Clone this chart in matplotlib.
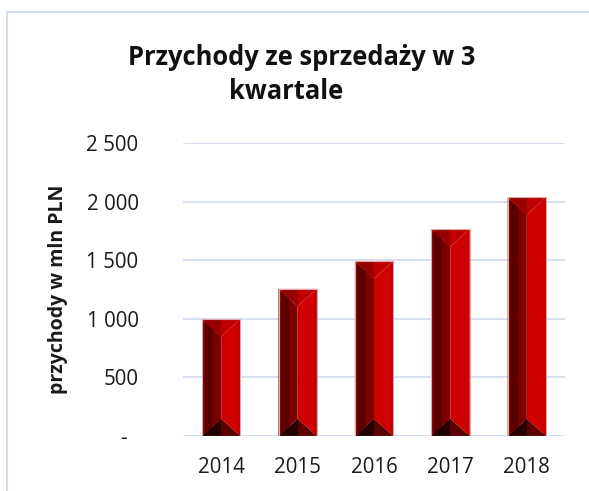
import numpy as np
import matplotlib.pyplot as plt
from matplotlib.patches import Polygon, Rectangle
from matplotlib.lines import Line2D

plt.rcParams['font.family'] = ['Open Sans', 'DejaVu Sans']

YEARS = ["2014", "2015", "2016", "2017", "2018"]
REVENUE = [995, 1255, 1490, 1765, 2035]
YTICKS = [0, 500, 1000, 1500, 2000, 2500]
YTICK_LABELS = ["-  ", "500", "1 000", "1 500", "2 000", "2 500"]

W, H = 589, 491
fig = plt.figure(figsize=(W / 100, H / 100), dpi=100)
ax = fig.add_axes([183 / W, 1 - 436 / H, 382 / W, 293 / H])
ax.set_xlim(-0.5, len(YEARS) - 0.5)
ax.set_ylim(0, 2500)
for s in ax.spines.values():
    s.set_visible(False)

for t in YTICKS:
    ax.axhline(t, color="#d5e0f0", lw=1.4, zorder=0)

# bevel depth in data units (a bit less than half the bar width in pixels)
bw = 0.5
px_x = 382 / len(YEARS)
px_y = 293 / 2500
d = (bw / 2) * px_x / px_y * 0.9

for i, v in enumerate(REVENUE):
    x0, x1, xc = i - bw / 2, i + bw / 2, i
    dd = min(d, v / 2)
    # left half (dark, with a darker strip) and right half (bright)
    ax.add_patch(Polygon([(x0, 0), (xc, dd), (xc, v - dd), (x0, v)],
                         closed=True, fc="#7c0000", ec="none", zorder=2))
    ax.add_patch(Polygon([(x0 + bw * 0.07, dd * 0.14), (x0 + bw * 0.28, dd * 0.56),
                          (x0 + bw * 0.28, v - dd * 0.56), (x0 + bw * 0.07, v - dd * 0.14)],
                         closed=True, fc="#5a0000", ec="none", zorder=2))
    ax.add_patch(Polygon([(xc, dd), (x1, 0), (x1, v), (xc, v - dd)],
                         closed=True, fc="#cf0000", ec="none", zorder=2))
    ax.add_patch(Polygon([(x1 - bw * 0.05, dd * 0.1), (x1, 0), (x1, v), (x1 - bw * 0.05, v - dd * 0.1)],
                         closed=True, fc="#b80000", ec="none", zorder=2))
    # top bevel
    ax.add_patch(Polygon([(x0, v), (x1, v), (xc, v - dd)],
                         closed=True, fc="#c00000", ec="none", zorder=3))
    ax.add_patch(Polygon([(x0, v), (xc, v), (xc, v - dd)],
                         closed=True, fc="#980000", ec="none", zorder=3))
    # bottom bevel
    ax.add_patch(Polygon([(x0, 0), (x1, 0), (xc, dd)],
                         closed=True, fc="#5a0000", ec="none", zorder=3))
    ax.add_patch(Polygon([(x0, 0), (xc, 0), (xc, dd)],
                         closed=True, fc="#260000", ec="none", zorder=3))
    ax.add_patch(Rectangle((x0, 0), bw, v, fill=False, ec="#e0a8a8", lw=0.8, zorder=4))

ax.set_xticks(range(len(YEARS)), YEARS, fontsize=14.8, color="#1a1a1a")
ax.set_yticks(YTICKS, YTICK_LABELS, fontsize=14.8, color="#1a1a1a")
ax.tick_params(axis="both", length=0)
ax.tick_params(axis="y", pad=32)
ax.tick_params(axis="x", pad=15)

ax.set_ylabel("przychody w mln PLN", fontsize=14, fontweight="bold", color="#1a1a1a")
ax.yaxis.set_label_coords(-0.30, 0.5)

fig.text(302 / W, 1 - 65 / H, "Przychody ze sprzedaży w 3", ha="center", va="baseline",
         fontsize=18.4, fontweight="bold", color="#111111")
fig.text(286 / W, 1 - 99 / H, "kwartale", ha="center", va="baseline",
         fontsize=18.4, fontweight="bold", color="#111111")

# chart frame
fig.add_artist(Line2D([7 / W, 7 / W, 1], [0, 1 - 12 / H, 1 - 12 / H],
                      transform=fig.transFigure, color="#c8d7ea", lw=1.2))

fig.savefig("out.png", dpi=100)
